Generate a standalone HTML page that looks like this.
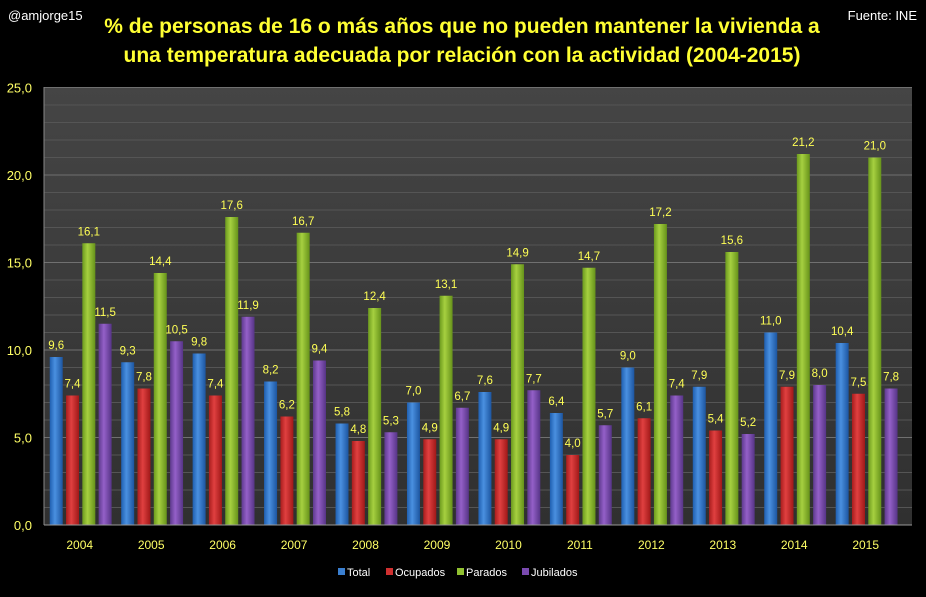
<!DOCTYPE html>
<html><head><meta charset="utf-8"><style>
body{margin:0;background:#000;width:926px;height:592px;overflow:hidden;font-family:"Liberation Sans",sans-serif}
</style></head><body>
<svg width="926" height="592">
<defs>
<linearGradient id="bg" x1="0" y1="0" x2="0" y2="1"><stop offset="0" stop-color="#454545"/><stop offset="1" stop-color="#303030"/></linearGradient>
<linearGradient id="g0" x1="0" x2="1"><stop offset="0" stop-color="#1f5fb0"/><stop offset=".4" stop-color="#4a90e0"/><stop offset="1" stop-color="#1c55a0"/></linearGradient>
<linearGradient id="g1" x1="0" x2="1"><stop offset="0" stop-color="#a81d1d"/><stop offset=".4" stop-color="#e04040"/><stop offset="1" stop-color="#a01818"/></linearGradient>
<linearGradient id="g2" x1="0" x2="1"><stop offset="0" stop-color="#6c9a1e"/><stop offset=".4" stop-color="#a6d040"/><stop offset="1" stop-color="#66921a"/></linearGradient>
<linearGradient id="g3" x1="0" x2="1"><stop offset="0" stop-color="#5e3a8e"/><stop offset=".4" stop-color="#9460c8"/><stop offset="1" stop-color="#563486"/></linearGradient>
</defs>
<text x="8" y="20" fill="#fff" font-size="13">@amjorge15</text>
<text x="917" y="20" fill="#fff" font-size="13" text-anchor="end">Fuente: INE</text>
<text x="462" y="33" fill="#ffff33" font-size="21" font-weight="bold" text-anchor="middle">% de personas de 16 o más años que no pueden mantener la vivienda a</text>
<text x="462" y="62" fill="#ffff33" font-size="21" font-weight="bold" text-anchor="middle">una temperatura adecuada por relación con la actividad (2004-2015)</text>
<rect x="44" y="87" width="868" height="438" fill="url(#bg)"/>
<g id="grid"></g><g id="bars"></g><g id="axes"></g>
<g font-size="11" fill="#fff">
<rect x="338" y="568" width="7" height="7" fill="#3a7fd0"/><text x="347" y="576">Total</text>
<rect x="386" y="568" width="7" height="7" fill="#d03030"/><text x="395" y="576">Ocupados</text>
<rect x="457" y="568" width="7" height="7" fill="#90c030"/><text x="466" y="576">Parados</text>
<rect x="522" y="568" width="7" height="7" fill="#7a4ab0"/><text x="531" y="576">Jubilados</text>
</g>
</svg>
<script>
const years=["2004","2005","2006","2007","2008","2009","2010","2011","2012","2013","2014","2015"];
const total=[9.6,9.3,9.8,8.2,5.8,7.0,7.6,6.4,9.0,7.9,11.0,10.4];
const ocupados=[7.4,7.8,7.4,6.2,4.8,4.9,4.9,4.0,6.1,5.4,7.9,7.5];
const parados=[16.1,14.4,17.6,16.7,12.4,13.1,14.9,14.7,17.2,15.6,21.2,21.0];
const jubilados=[11.5,10.5,11.9,9.4,5.3,6.7,7.7,5.7,7.4,5.2,8.0,7.8];
const yTicks=[0,5,10,15,20,25];
const NS="http://www.w3.org/2000/svg";
const y=v=>525-v*17.5;
const cx=i=>44+71.45*(i+0.5);
function mk(t,a,p){const e=document.createElementNS(NS,t);for(const k in a)e.setAttribute(k,a[k]);p.appendChild(e);return e;}
const grid=document.getElementById('grid'),bars=document.getElementById('bars'),axes=document.getElementById('axes');
for(let v=1;v<=25;v++){const l=mk('line',{x1:44,x2:912,y1:y(v),y2:y(v),stroke:v%5?'#555':'#707070','stroke-width':1},grid);

}
yTicks.forEach(v=>{const t=mk('text',{x:32,y:y(v)+5,fill:'#ffff66','font-size':13,'text-anchor':'end'},axes);t.textContent=v.toFixed(1).replace('.',',');

});
mk('line',{x1:44,x2:44,y1:87,y2:525,stroke:'#888'},axes);
mk('line',{x1:44,x2:912,y1:525,y2:525,stroke:'#999'},axes);
years.forEach((yr,i)=>{const t=mk('text',{x:cx(i),y:549,fill:'#ffff66','font-size':12,'text-anchor':'middle'},axes);t.textContent=yr;

});
const series=[total,ocupados,parados,jubilados];
const names=['total','ocupados','parados','jubilados'];
series.forEach((s,k)=>{s.forEach((v,i)=>{const x=cx(i)-30+k*16.3;
const r=mk('rect',{x:x,y:y(v),width:13,height:525-y(v),fill:'url(#g'+k+')'},bars);


const t=mk('text',{x:x+6.5,y:y(v)-8,fill:'#ffff55','font-size':11.5,'text-anchor':'middle'},bars);t.textContent=v.toFixed(1).replace('.',',');

});});
</script>
</body></html>
